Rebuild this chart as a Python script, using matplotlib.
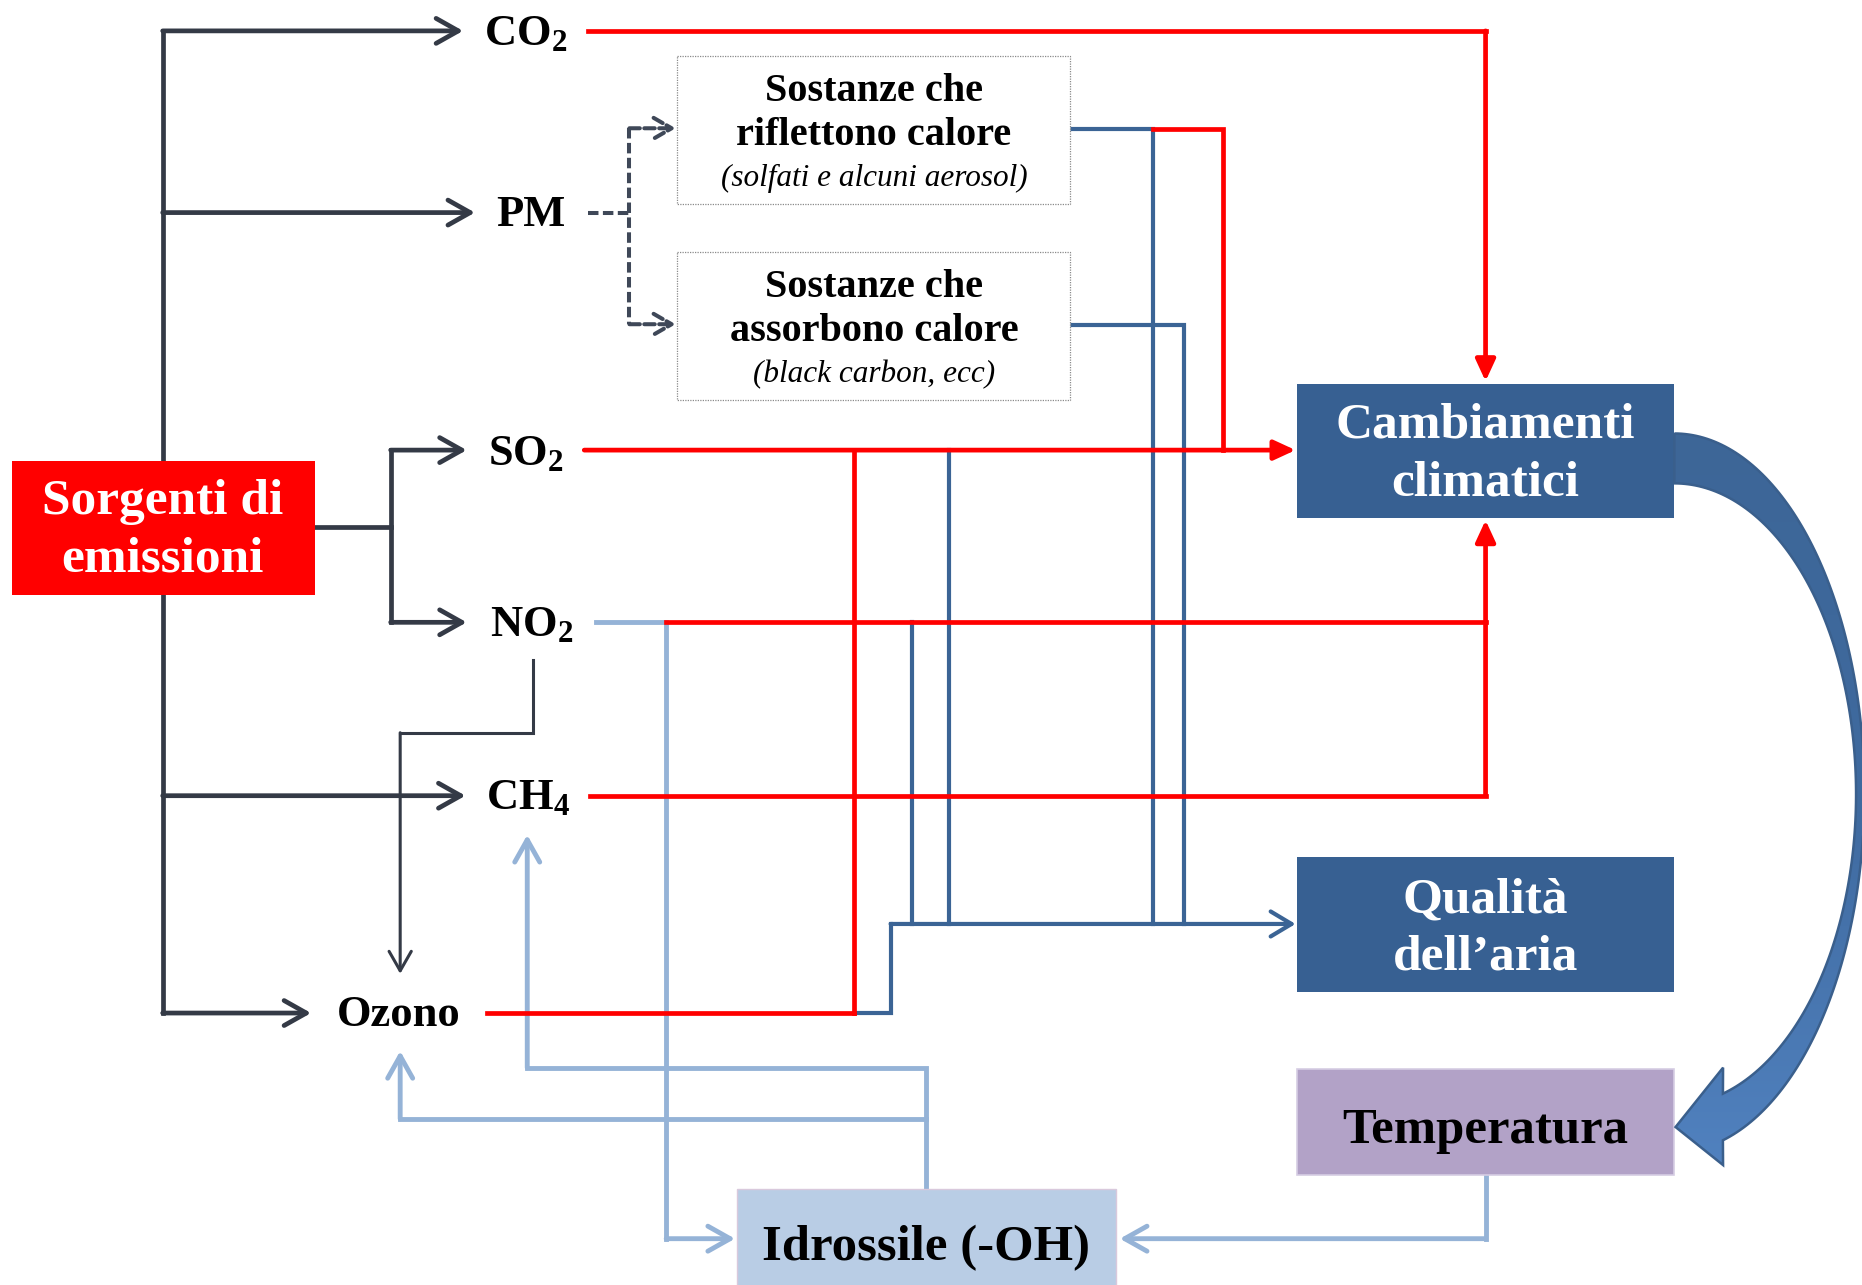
import numpy as np
import matplotlib.pyplot as plt
from matplotlib.patches import Rectangle, Polygon
from matplotlib.colors import LinearSegmentedColormap

plt.rcParams['font.family'] = ['Liberation Serif', 'DejaVu Serif']
plt.rcParams['mathtext.default'] = 'regular'

# testi dei nodi (coordinate in pixel dell'immagine 1568x1082)
source_text = ['Sorgenti di', 'emissioni']
pollutant_labels = [r'CO$_2$', 'PM', r'SO$_2$', r'NO$_2$', r'CH$_4$', 'Ozono']
pollutant_pos = [(443, 27), (447, 179), (443, 380), (448, 524), (445, 670), (336, 853)]
pm_box_titles = [['Sostanze che', 'riflettono calore'], ['Sostanze che', 'assorbono calore']]
pm_box_notes = ['(solfati e alcuni aerosol)', '(black carbon, ecc)']
effect_labels = [['Cambiamenti', 'climatici'], ["Qualità", "dell\u2019aria"], ['Temperatura'], ['Idrossile (-OH)']]

W, H = 1568, 1082
DARK = '#343a46'
RED = '#ff0000'
BLUE = '#3b6495'
LBLUE = '#95b3d7'
BOXBLUE = '#376092'

fig = plt.figure(figsize=(18.62, 12.85), dpi=100)
ax = fig.add_axes([0, 0, 1, 1])
ax.set_xlim(0, W)
ax.set_ylim(H, 0)
ax.axis('off')


def line(pts, color, lw, head=None, hl=1.6, hw=0.9, z=2, ls='-'):
    xs, ys = zip(*pts)
    if head is None:
        ax.plot(xs, ys, color=color, lw=lw, solid_capstyle='projecting',
                solid_joinstyle='miter', zorder=z, ls=ls, dash_capstyle='butt')
        return
    if len(pts) > 2:
        ax.plot(xs[:-1], ys[:-1], color=color, lw=lw, solid_capstyle='projecting',
                solid_joinstyle='miter', zorder=z, ls=ls, dash_capstyle='butt')
    ax.annotate('', xy=pts[-1], xytext=pts[-2], zorder=z,
                arrowprops=dict(arrowstyle=f'{head},head_length={hl},head_width={hw}',
                                color=color, lw=lw, shrinkA=0, shrinkB=0,
                                mutation_scale=10, ls=ls))


# sorgenti -> inquinanti
lw_d = 3.4
line([(137, 26), (137, 853)], DARK, lw_d)
line([(137, 26), (390, 26)], DARK, lw_d, '->')
line([(137, 179), (400, 179)], DARK, lw_d, '->')
line([(137, 670), (392, 670)], DARK, lw_d, '->')
line([(137, 853), (262, 853)], DARK, lw_d, '->')
line([(265, 444), (329, 444)], DARK, lw_d)
line([(329, 379), (329, 524)], DARK, lw_d)
line([(329, 379), (393, 379)], DARK, lw_d, '->')
line([(329, 524), (393, 524)], DARK, lw_d, '->')
line([(449, 556), (449, 617), (337, 617), (337, 820)], DARK, 2.2, '->', 1.4, 0.8)

# PM tratteggiato
dash = (0, (2.6, 1.1))
line([(495, 179), (530, 179)], '#3f4858', 2.9, ls=dash)
line([(530, 108), (530, 273)], '#3f4858', 2.9, ls=dash)
line([(530, 108), (569, 108)], '#3f4858', 2.9, '->', 1.3, 0.75, ls=dash)
line([(530, 273), (569, 273)], '#3f4858', 2.9, '->', 1.3, 0.75, ls=dash)

# collegamenti verso qualita' dell'aria
lw_b = 3.0
line([(901, 109), (971, 109), (971, 778)], BLUE, lw_b)
line([(901, 274), (997, 274), (997, 778)], BLUE, lw_b)
line([(799, 379), (799, 778)], BLUE, lw_b)
line([(768, 524), (768, 778)], BLUE, lw_b)
line([(719, 853), (750, 853), (750, 778), (1091, 778)], BLUE, lw_b, '->', 1.5, 0.9)

# collegamenti verso cambiamenti climatici
lw_r = 3.4
line([(495, 26), (1251, 26), (1251, 321)], RED, lw_r, '-|>', 1.3, 0.6, z=3)
line([(971, 109), (1030, 109), (1030, 379)], RED, lw_r, z=3)
line([(492, 379), (1091, 379)], RED, lw_r, '-|>', 1.3, 0.6, z=3)
line([(719, 379), (719, 853)], RED, lw_r, z=3)
line([(410, 853), (719, 853)], RED, lw_r, z=3)
line([(561, 524), (1251, 524)], RED, lw_r, z=3)
line([(497, 670), (1251, 670), (1251, 438)], RED, lw_r, '-|>', 1.3, 0.6, z=3)

# idrossile
lw_l = 3.5
line([(502, 524), (561, 524), (561, 1043), (619, 1043)], LBLUE, lw_l, '->', 1.6, 0.9, z=2.5)
line([(780, 1001), (780, 899), (444, 899), (444, 703)], LBLUE, lw_l, '->', 1.6, 0.9, z=2.5)
line([(780, 942), (337, 942), (337, 885)], LBLUE, lw_l, '->', 1.6, 0.9, z=2.5)
line([(1251, 989), (1251, 1043), (943, 1043)], LBLUE, lw_l, '->', 1.6, 0.9, z=2.5)

# riquadri
ax.add_patch(Rectangle((10, 388), 255, 113, fc=RED, ec='none', zorder=5))
for y0 in (47, 212):
    ax.add_patch(Rectangle((570, y0), 331, 125, fc='white', ec='#8a8a8a', lw=0.9,
                           ls=(0, (1, 1)), zorder=5))
ax.add_patch(Rectangle((1092, 323), 318, 113, fc=BOXBLUE, ec='none', zorder=5))
ax.add_patch(Rectangle((1092, 722), 318, 113, fc=BOXBLUE, ec='none', zorder=5))
ax.add_patch(Rectangle((1092, 900), 318, 89, fc='#b2a2c7', ec='#d6cde3', lw=1.2, zorder=5))
ax.add_patch(Rectangle((621, 1001), 319, 85, fc='#b9cde5', ec='#d9c9dc', lw=1.0, zorder=5))

# freccia curva cambiamenti -> temperatura
t_out = np.radians(np.linspace(-90, 75.2, 150))
t_in = np.radians(np.linspace(-90, 74.5, 150))
outer = np.c_[1410 + 160 * np.cos(t_out), 667.6 + 302.6 * np.sin(t_out)]
inner = np.c_[1410 + 153 * np.cos(t_in), 668.7 + 261.7 * np.sin(t_in)]
head = np.array([[1451, 981], [1411, 949], [1451, 899]])
poly = Polygon(np.vstack([outer, head, inner[::-1]]), closed=True, fc='none',
               ec='#3a5f8c', lw=1.8, zorder=6)
ax.add_patch(poly)
cmap = LinearSegmentedColormap.from_list('arr', ['#3d6697', '#3f6a9f', '#5182c0'])
im = ax.imshow(np.linspace(0, 1, 256).reshape(-1, 1), cmap=cmap, aspect='auto',
               extent=[1400, 1570, 990, 360], zorder=5.5, interpolation='bilinear')
im.set_clip_path(poly)
ax.set_xlim(0, W)
ax.set_ylim(H, 0)

# testi
for txt, y in zip(source_text, (423, 471)):
    ax.text(137, y, txt, color='white', fontsize=37, fontweight='bold',
            ha='center', va='center', zorder=7)
for lab, (x, y) in zip(pollutant_labels, pollutant_pos):
    ax.text(x, y + 2, lab, fontsize=32, fontweight='bold', ha='center',
            va='center', zorder=7)
for i, y0 in enumerate((47, 212)):
    ax.text(736, y0 + 30, pm_box_titles[i][0], fontsize=29, fontweight='bold',
            ha='center', va='center', zorder=7)
    ax.text(736, y0 + 67, pm_box_titles[i][1], fontsize=29, fontweight='bold',
            ha='center', va='center', zorder=7)
    ax.text(736, y0 + 103, pm_box_notes[i], fontsize=22.5, style='italic',
            ha='center', va='center', zorder=7)
for txt, y in zip(effect_labels[0], (358, 407)):
    ax.text(1251, y, txt, color='white', fontsize=37, fontweight='bold',
            ha='center', va='center', zorder=7)
for txt, y in zip(effect_labels[1], (758, 806)):
    ax.text(1251, y, txt, color='white', fontsize=37, fontweight='bold',
            ha='center', va='center', zorder=7)
ax.text(1251, 952, effect_labels[2][0], fontsize=36.5, fontweight='bold',
        ha='center', va='center', zorder=7)
ax.text(780, 1051, effect_labels[3][0], fontsize=36.5, fontweight='bold',
        ha='center', va='center', zorder=7)

fig.savefig('out.png', dpi=100)
